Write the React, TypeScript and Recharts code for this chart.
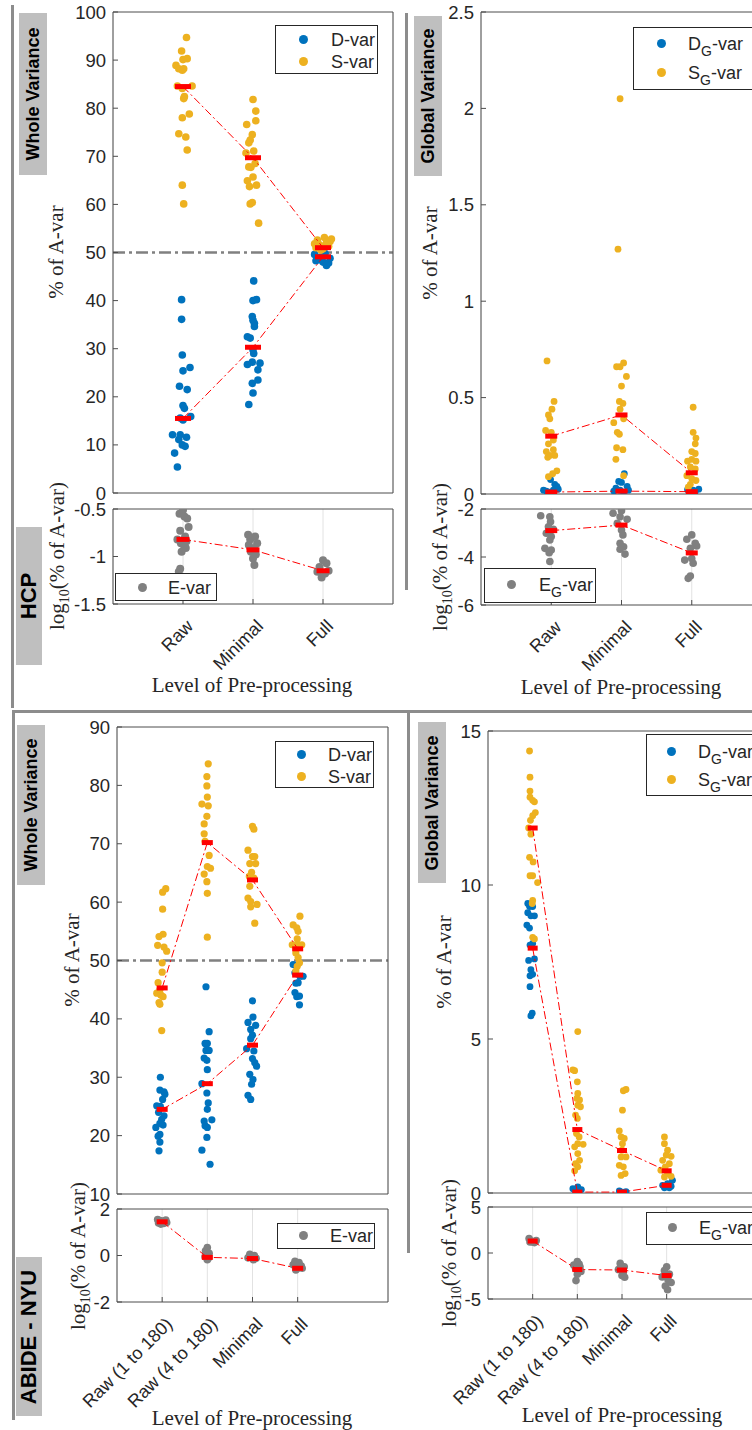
import React from 'react';
import { ComposedChart, Scatter, XAxis, YAxis, CartesianGrid, ReferenceLine } from 'recharts';

type Pt = [number, number]; // [jitter in category units, value]

const F_SANS = "'Liberation Sans', Arial, Helvetica, sans-serif";
const F_SERIF = "'Liberation Serif', 'Times New Roman', serif";
const INK = '#262626';
const AX = '#4d4d4d';
const GRID = '#e2e2e2';
const BLUE = '#0072BD';
const ORANGE = '#EDB120';
const GRAY = '#808080';
const RED = '#FF0000';
const FRAME = '#8c8c8c';

const hcpCats = ['Raw', 'Minimal', 'Full'];
const abideCats = ['Raw (1 to 180)', 'Raw (4 to 180)', 'Minimal', 'Full'];

// ---- HCP, whole variance ----
const hcpWholeTicks = [0, 10, 20, 30, 40, 50, 60, 70, 80, 90, 100];
const hcpWholeS: Pt[][] = [
  [[.05, 94.7], [-.02, 91.9], [.06, 90.3], [0, 90.1], [-.1, 88.9], [-.06, 88.2], [.01, 88.2], [-.01, 87.9], [-.08, 84.6], [.13, 84.6], [-.01, 84.1], [.02, 82.4], [.01, 82.0], [.09, 78.8], [-.01, 78.0], [-.06, 74.7], [.04, 74.0], [.06, 71.3], [-.01, 64.0], [.01, 60.1]],
  [[0, 81.8], [.04, 79.4], [.04, 77.4], [-.09, 76.6], [-.01, 74.5], [-.04, 73.4], [-.06, 72.8], [.01, 71.1], [-.1, 70.7], [.03, 68.5], [-.06, 67.8], [-.03, 67.7], [-.08, 64.9], [-.05, 63.7], [.05, 64.0], [0, 65.7], [-.04, 60.1], [-.01, 60.4], [.08, 56.1]],
  [[.02, 53.1], [-.08, 52.6], [.1, 52.3], [.05, 52.0], [-.05, 51.6], [.08, 51.3], [-.1, 51.0], [0, 50.8], [-.03, 50.5], [.12, 52.8], [.06, 52.2], [-.12, 51.8]],
];
const hcpWholeD: Pt[][] = [
  [[-.02, 40.2], [-.02, 36.1], [-.01, 28.7], [0, 25.4], [.1, 26.1], [-.05, 22.2], [.06, 21.5], [0, 18.2], [.02, 17.6], [-.04, 15.6], [.11, 15.9], [-.15, 12.1], [-.04, 12.1], [.05, 11.6], [-.06, 11.1], [-.01, 10.0], [.03, 9.7], [-.12, 8.3], [-.08, 5.4], [0, 15.2]],
  [[.01, 44.1], [0, 40.0], [.05, 40.2], [-.01, 36.7], [0, 35.9], [.02, 35.3], [.02, 34.6], [-.08, 32.5], [-.04, 32.2], [0, 29.8], [.01, 29.0], [-.08, 26.7], [-.01, 27.2], [.1, 27.0], [.07, 25.6], [.07, 23.5], [-.01, 22.8], [0, 20.8], [-.06, 18.4]],
  [[-.12, 49.6], [-.05, 49.0], [-.1, 48.3], [0, 48.0], [.08, 47.8], [.05, 47.3], [.1, 48.8], [.03, 49.8], [-.03, 48.5]],
];
const hcpWholeSMed = [84.5, 69.7, 51.0];
const hcpWholeDMed = [15.5, 30.3, 49.1];

const hcpWholeLogTicks = [-1.5, -1, -0.5];
const hcpWholeE: Pt[][] = [
  [[0, -0.51], [-.05, -0.55], [.02, -0.58], [.06, -0.60], [.08, -0.69], [-.04, -0.73], [.03, -0.79], [-.08, -0.82], [.05, -0.84], [-.03, -0.86], [.01, -0.88], [.04, -0.91], [-.02, -0.95], [-.04, -1.13], [-.06, -1.16]],
  [[-.07, -0.77], [.03, -0.79], [-.04, -0.82], [.06, -0.86], [-.06, -0.88], [.02, -0.91], [-.03, -0.95], [.04, -0.98], [0, -1.02], [.02, -1.09]],
  [[0, -1.04], [.05, -1.07], [-.05, -1.11], [.08, -1.15], [-.08, -1.16], [.03, -1.18], [-.02, -1.22]],
];
const hcpWholeEMed = [-0.82, -0.93, -1.15];

// ---- HCP, global variance ----
const hcpGlobalTicks = [0, 0.5, 1, 1.5, 2, 2.5];
const hcpGlobalS: Pt[][] = [
  [[-.06, .69], [.04, .48], [.01, .44], [-.04, .41], [-.02, .39], [-.08, .33], [0, .32], [.03, .28], [-.04, .26], [.03, .23], [-.07, .22], [-.02, .20], [.05, .20], [-.05, .19], [.08, .12], [-.04, .09], [.02, .105]],
  [[-.02, 2.05], [-.05, 1.27], [-.02, .66], [.03, .68], [-.07, .66], [.07, .61], [0, .56], [-.03, .48], [.02, .47], [-.02, .44], [.03, .39], [-.11, .37], [-.06, .32], [-.03, .31], [-.07, .24], [.02, .23], [-.08, .18], [.03, .095]],
  [[.02, .45], [.02, .32], [.06, .29], [.05, .26], [0, .22], [.05, .21], [-.06, .17], [0, .18], [.06, .17], [-.02, .14], [.05, .13], [-.07, .095], [0, .08], [.06, .07], [-.02, .05], [-.05, .035]],
];
const hcpGlobalD: Pt[][] = [
  [[-.01, .075], [.05, .05], [.08, .04], [-.11, .02], [-.07, .015], [-.02, .01], [.03, .02], [.1, .025]],
  [[.04, .105], [-.04, .065], [0, .06], [.08, .04], [-.08, .03], [-.02, .02], [.1, .02], [-.11, .015], [.03, .01]],
  [[-.06, .022], [.02, .02], [.1, .025], [-.02, .01], [.05, .012]],
];
const hcpGlobalSMed = [0.30, 0.41, 0.11];
const hcpGlobalDMed = [0.01, 0.015, 0.012];

const hcpGlobalLogTicks = [-6, -4, -2];
const hcpGlobalE: Pt[][] = [
  [[-.15, -2.28], [-.02, -2.32], [-.01, -2.53], [-.04, -2.74], [.03, -2.85], [-.07, -3.01], [0, -3.15], [-.02, -3.29], [-.09, -3.64], [0, -3.71], [-.03, -3.82], [-.02, -4.19]],
  [[0, -2.07], [-.12, -2.18], [-.02, -2.32], [.08, -2.43], [-.06, -2.6], [0, -2.88], [.02, -3.08], [-.02, -3.43], [.03, -3.57], [-.02, -3.68], [.05, -3.88]],
  [[0, -3.08], [-.07, -3.26], [.05, -3.43], [.07, -3.54], [-.02, -3.64], [-.1, -4.13], [0, -4.06], [.02, -4.26], [-.02, -4.79], [-.05, -4.89]],
];
const hcpGlobalEMed = [-2.9, -2.67, -3.83];

// ---- ABIDE-NYU, whole variance ----
const abideWholeTicks = [10, 20, 30, 40, 50, 60, 70, 80, 90];
const abideWholeS: Pt[][] = [
  [[.08, 62.3], [.01, 61.7], [.01, 58.8], [.02, 54.5], [-.07, 54.1], [-.1, 52.6], [.04, 52.3], [.1, 51.6], [0, 49.6], [0, 48.0], [-.09, 46.2], [-.05, 45.0], [-.12, 44.4], [-.03, 44.1], [.02, 43.8], [-.07, 42.8], [-.05, 42.5], [-.01, 38.0]],
  [[.02, 83.7], [-.01, 81.5], [-.01, 79.9], [0, 78.0], [-.12, 76.8], [.02, 76.5], [-.01, 74.7], [-.07, 73.4], [-.07, 71.7], [-.05, 70.4], [.04, 68.0], [0, 66.1], [.07, 65.8], [-.07, 64.8], [-.01, 63.5], [0, 61.5], [0, 54.0]],
  [[0, 73.0], [.03, 72.5], [-.1, 68.9], [0, 67.8], [.05, 67.8], [-.06, 66.6], [.07, 66.6], [-.02, 65.1], [-.07, 64.4], [.03, 64.1], [-.06, 62.7], [-.1, 60.7], [-.04, 60.1], [.1, 59.6], [-.04, 59.2], [.05, 56.4]],
  [[.05, 57.6], [-.1, 56.1], [-.02, 55.6], [.01, 55.0], [-.01, 53.7], [-.12, 52.7], [0, 52.7], [.09, 52.7], [-.04, 51.3], [.01, 50.5], [-.01, 49.0], [-.04, 48.2], [.04, 49.6]],
];
const abideWholeD: Pt[][] = [
  [[-.04, 30.0], [-.05, 27.8], [.04, 27.5], [.06, 27.1], [.01, 26.2], [-.12, 25.1], [-.04, 25.0], [-.08, 24.0], [.04, 23.4], [-.01, 22.8], [-.05, 22.1], [.02, 21.8], [-.14, 21.4], [-.05, 20.2], [-.09, 19.9], [-.05, 18.9], [-.07, 17.4]],
  [[-.03, 45.5], [.04, 37.8], [-.05, 35.8], [0, 35.8], [-.03, 34.6], [.04, 34.6], [-.07, 33.3], [-.01, 32.9], [0, 31.3], [-.12, 28.9], [-.01, 27.3], [.02, 25.6], [0, 24.5], [-.07, 22.5], [.1, 22.7], [-.05, 21.7], [0, 21.4], [-.01, 19.7], [-.12, 17.5], [.06, 15.1]],
  [[0, 43.1], [.01, 40.3], [-.1, 39.4], [.07, 38.9], [-.04, 38.2], [0, 37.2], [-.04, 36.6], [-.13, 34.9], [.03, 34.5], [0, 33.2], [.05, 32.5], [.09, 31.9], [-.06, 30.5], [.01, 29.6], [-.02, 28.8], [-.1, 26.9], [-.04, 26.2]],
  [[-.1, 49.3], [-.06, 47.9], [.05, 47.3], [.12, 47.3], [-.04, 46.1], [.01, 46.2], [-.06, 44.5], [-.02, 43.8], [.04, 43.9], [.04, 42.4]],
];
const abideWholeSMed = [45.3, 70.2, 63.8, 52.0];
const abideWholeDMed = [24.5, 28.9, 35.5, 47.5];

const abideWholeLogTicks = [-2, 0, 2];
const abideWholeE: Pt[][] = [
  [[-.1, 1.55], [-.05, 1.5], [0, 1.48], [.05, 1.45], [.1, 1.42], [-.08, 1.4], [.03, 1.38], [.08, 1.52], [-.03, 1.35]],
  [[0, 0.34], [-.04, 0.2], [.04, 0.1], [-.02, 0], [.03, -0.1], [0, -0.18], [-.05, -0.05]],
  [[-.06, 0.05], [.04, 0], [0, -0.05], [-.1, -0.1], [.08, -0.12], [.02, -0.18]],
  [[-.06, -0.25], [.03, -0.3], [-.1, -0.4], [.08, -0.45], [0, -0.55], [-.04, -0.62], [.1, -0.55]],
];
const abideWholeEMed = [1.45, -0.08, -0.13, -0.55];

// ---- ABIDE-NYU, global variance ----
const abideGlobalTicks = [0, 5, 10, 15];
const abideGlobalS: Pt[][] = [
  [[-.07, 14.35], [-.06, 13.5], [-.06, 13.05], [-.06, 12.85], [0, 12.75], [.04, 12.7], [.06, 12.35], [0, 12.25], [-.05, 12.1], [-.09, 11.85], [-.04, 11.65], [-.07, 10.9], [.01, 10.75], [-.06, 10.3], [0, 10.3], [.11, 10.08], [0, 9.5], [-.01, 9.4], [0, 8.3], [.04, 8.25]],
  [[.01, 5.24], [-.1, 4.0], [-.06, 3.97], [0, 3.61], [.01, 3.23], [-.01, 3.07], [.05, 3.02], [.01, 2.85], [.07, 2.8], [-.04, 2.53], [0, 2.42], [-.02, 1.93], [.04, 1.82], [.01, 1.6], [.13, 1.58], [-.06, 1.5], [.01, 1.28], [.05, 1.06], [-.04, 0.95], [.01, 0.85], [-.06, 0.72]],
  [[.09, 3.36], [.03, 3.32], [.01, 2.69], [-.06, 2.02], [-.02, 1.82], [.05, 1.77], [.01, 1.6], [0, 1.39], [-.02, 1.17], [.09, 1.17], [-.06, 0.9], [.03, 0.85], [-.02, 0.57], [.07, 0.63]],
  [[-.05, 1.82], [-.05, 1.6], [.02, 1.39], [-.01, 1.23], [.1, 1.19], [-.09, 1.06], [.06, 0.95], [-.03, 0.85], [-.13, 0.74], [.02, 0.63], [-.05, 0.52], [.1, 0.54]],
];
const abideGlobalD: Pt[][] = [
  [[-.11, 9.4], [-.07, 9.3], [0, 9.3], [-.11, 9.1], [-.04, 9.0], [.04, 9.0], [-.13, 8.7], [-.07, 8.6], [0, 8.1], [-.06, 8.05], [-.09, 7.55], [.04, 7.6], [-.04, 7.25], [-.06, 7.05], [0, 7.1], [-.06, 6.7], [-.01, 5.84], [-.04, 5.75]],
  [[-.1, .14], [.01, .2], [.09, .11], [-.02, .065], [-.04, .03]],
  [[-.06, .065], [.01, .03], [.09, .04], [-.02, .01]],
  [[-.09, .25], [.02, .3], [.1, .22], [.13, .41], [-.05, .17], [.06, .17]],
];
const abideGlobalSMed = [11.85, 2.06, 1.38, 0.72];
const abideGlobalDMed = [7.95, 0.03, 0.03, 0.25];

const abideGlobalLogTicks = [-5, 0, 5];
const abideGlobalE: Pt[][] = [
  [[-.08, 1.58], [-.03, 1.3], [.04, 1.13], [.08, 1.35], [0, 1.2], [-.06, 1.2], [.06, 1.25]],
  [[0, -0.94], [-.08, -1.3], [.06, -1.5], [-.04, -1.7], [.08, -2.0], [0, -2.3], [-.03, -3.0], [.04, -1.2]],
  [[-.04, -1.13], [.05, -1.5], [-.08, -1.8], [.03, -2.1], [0, -2.45], [.06, -2.64]],
  [[0, -1.5], [-.05, -1.9], [.06, -2.3], [-.1, -2.6], [.03, -2.9], [.1, -3.2], [-.03, -3.6], [.02, -4.0]],
];
const abideGlobalEMed = [1.3, -1.8, -1.85, -2.45];

const toXY = (groups: Pt[][]) => groups.flatMap((g, i) => g.map(([dx, v]) => ({ x: i + 1 + dx, y: v })));
const medXY = (m: number[]) => m.map((v, i) => ({ x: i + 1, y: v }));

const YW = 70;
const MT = 14;
const MR = 4;

function RotTick(p: any) {
  const label = p.cats[Math.round(p.payload.value) - 1];
  return (
    <text
      x={0}
      y={0}
      transform={`translate(${p.x + 7},${p.y + 19}) rotate(-45)`}
      textAnchor="end"
      dominantBaseline="central"
      fontSize={18}
      fontFamily={F_SANS}
      fill={INK}
    >
      {label}
    </text>
  );
}

function Panel(props: any) {
  const { left, top, w, h, cats, labels, yDomain, yTicks, series, meds, medW, refY } = props;
  const xMax = cats.length === 3 ? 4 : 6;
  const catTicks = cats.map((_: string, i: number) => i + 1);
  const XH = labels ? 180 : 14;
  const width = YW + w + 1 + MR;
  const height = MT + 1 + h + XH;
  const axisStyle = { stroke: AX, strokeWidth: 1 };
  return (
    <div style={{ position: 'absolute', left: left - YW, top: top - MT - 1 }}>
      <ComposedChart width={width} height={height} margin={{ top: MT, right: MR, bottom: 0, left: 0 }}>
        <CartesianGrid horizontal={false} stroke={GRID} />
        <XAxis
          dataKey="x"
          type="number"
          domain={[0, xMax]}
          ticks={catTicks}
          interval={0}
          height={XH}
          allowDataOverflow
          axisLine={axisStyle}
          tickLine={axisStyle}
          tickSize={-5}
          tickMargin={5}
          tick={labels ? (p: any) => <RotTick {...p} cats={cats} /> : false}
        />
        <XAxis
          xAxisId="top"
          orientation="top"
          type="number"
          domain={[0, xMax]}
          ticks={catTicks}
          interval={0}
          height={1}
          allowDataOverflow
          axisLine={axisStyle}
          tickLine={axisStyle}
          tickSize={-5}
          tick={false}
        />
        <YAxis
          dataKey="y"
          type="number"
          domain={yDomain}
          ticks={yTicks}
          interval={0}
          width={YW}
          allowDataOverflow
          axisLine={axisStyle}
          tickLine={axisStyle}
          tickSize={-5}
          tickMargin={12}
          tick={{ fill: INK, fontSize: 18.5, fontFamily: F_SANS }}
        />
        <YAxis
          yAxisId="right"
          orientation="right"
          type="number"
          domain={yDomain}
          ticks={yTicks}
          interval={0}
          width={1}
          allowDataOverflow
          axisLine={axisStyle}
          tickLine={axisStyle}
          tickSize={-5}
          tick={false}
        />
        {refY !== undefined && (
          <ReferenceLine y={refY} stroke={GRAY} strokeWidth={2.5} strokeDasharray="12 4 3 4" />
        )}
        {series.map((s: any, i: number) => (
          <Scatter
            key={'s' + i}
            data={s.data}
            isAnimationActive={false}
            shape={(p: any) => <circle cx={p.cx} cy={p.cy} r={s.r} fill={s.color} />}
          />
        ))}
        {meds.map((m: number[], i: number) => (
          <Scatter
            key={'m' + i}
            data={medXY(m)}
            isAnimationActive={false}
            line={{ stroke: RED, strokeWidth: 1, strokeDasharray: '8 3 2 3' }}
            shape={(p: any) => <rect x={p.cx - medW / 2} y={p.cy - 2.5} width={medW} height={5} fill={RED} />}
          />
        ))}
      </ComposedChart>
    </div>
  );
}

function LegendBox({ left, top, w, h, dotX, textX, rows }: any) {
  return (
    <div style={{ position: 'absolute', left, top, width: w, height: h, border: `1px solid ${INK}`, background: '#fff', boxSizing: 'border-box' }}>
      {rows.map((r: any, i: number) => (
        <React.Fragment key={i}>
          <div style={{ position: 'absolute', left: dotX - 5, top: r.y - 5, width: 9, height: 9, borderRadius: '50%', background: r.color }} />
          <div style={{ position: 'absolute', left: textX, top: r.y - 11, lineHeight: '22px', fontSize: 18, fontFamily: F_SANS, color: INK, whiteSpace: 'nowrap' }}>
            {r.label}
          </div>
        </React.Fragment>
      ))}
    </div>
  );
}

const sub = (base: string) => (
  <span>
    {base}
    <span style={{ fontSize: 14, position: 'relative', top: 6 }}>G</span>-var
  </span>
);

function VLabel({ x, y, children, size = 21, bold = false, serif = true }: any) {
  return (
    <div
      style={{
        position: 'absolute',
        left: x,
        top: y,
        transform: 'translate(-50%, -50%) rotate(-90deg)',
        whiteSpace: 'nowrap',
        fontFamily: serif ? F_SERIF : F_SANS,
        fontWeight: bold ? 700 : 400,
        fontSize: size,
        color: serif ? INK : '#000',
        lineHeight: 1,
      }}
    >
      {children}
    </div>
  );
}

const LogLabel = () => (
  <span>
    log<span style={{ fontSize: 14, position: 'relative', top: 5 }}>10</span>(% of A-var)
  </span>
);

function GrayBox({ left, top, w, h, text, size }: any) {
  return (
    <div style={{ position: 'absolute', left, top, width: w, height: h, background: '#bfbfbf' }}>
      <VLabel x={w / 2} y={h / 2} size={size} bold serif={false}>
        {text}
      </VLabel>
    </div>
  );
}

function HLabel({ x, y, text }: any) {
  return (
    <div style={{ position: 'absolute', left: x, top: y, transform: 'translate(-50%, -50%)', whiteSpace: 'nowrap', fontFamily: F_SERIF, fontSize: 21, color: INK, lineHeight: 1 }}>
      {text}
    </div>
  );
}

const Bar = ({ left, top, w, h }: any) => (
  <div style={{ position: 'absolute', left, top, width: w, height: h, background: FRAME }} />
);

export default function App() {
  return (
    <div style={{ position: 'absolute', left: 0, top: 0, width: 752, height: 1430, overflow: 'hidden', background: '#fff' }}>
      {/* frame lines */}
      <Bar left={11} top={5} w={3} h={703} />
      <Bar left={12} top={710} w={740} h={3} />
      <Bar left={12} top={713} w={3} h={707} />
      <Bar left={405} top={13} w={3} h={577} />
      <Bar left={407} top={713} w={3} h={540} />

      {/* HCP whole variance */}
      <Panel left={113} top={12} w={280} h={481} cats={hcpCats} yDomain={[0, 100]} yTicks={hcpWholeTicks}
        series={[{ data: toXY(hcpWholeD), color: BLUE, r: 3.8 }, { data: toXY(hcpWholeS), color: ORANGE, r: 3.8 }]}
        meds={[hcpWholeDMed, hcpWholeSMed]} medW={16} refY={50} />
      <Panel left={113} top={509} w={280} h={95} cats={hcpCats} labels yDomain={[-1.5, -0.5]} yTicks={hcpWholeLogTicks}
        series={[{ data: toXY(hcpWholeE), color: GRAY, r: 4 }]} meds={[hcpWholeEMed]} medW={13} />

      {/* HCP global variance */}
      <Panel left={481} top={12} w={281} h={482} cats={hcpCats} yDomain={[0, 2.5]} yTicks={hcpGlobalTicks}
        series={[{ data: toXY(hcpGlobalD), color: BLUE, r: 3.4 }, { data: toXY(hcpGlobalS), color: ORANGE, r: 3.4 }]}
        meds={[hcpGlobalDMed, hcpGlobalSMed]} medW={12} />
      <Panel left={481} top={509} w={281} h={96} cats={hcpCats} labels yDomain={[-6, -2]} yTicks={hcpGlobalLogTicks}
        series={[{ data: toXY(hcpGlobalE), color: GRAY, r: 3.8 }]} meds={[hcpGlobalEMed]} medW={12} />

      {/* ABIDE whole variance */}
      <Panel left={117} top={727} w={271} h={467} cats={abideCats} yDomain={[10, 90]} yTicks={abideWholeTicks}
        series={[{ data: toXY(abideWholeD), color: BLUE, r: 3.6 }, { data: toXY(abideWholeS), color: ORANGE, r: 3.6 }]}
        meds={[abideWholeDMed, abideWholeSMed]} medW={11} refY={50} />
      <Panel left={117} top={1209} w={271} h={93} cats={abideCats} labels yDomain={[-2, 2]} yTicks={abideWholeLogTicks}
        series={[{ data: toXY(abideWholeE), color: GRAY, r: 3.8 }]} meds={[abideWholeEMed]} medW={11} />

      {/* ABIDE global variance */}
      <Panel left={488} top={731} w={268} h={462} cats={abideCats} yDomain={[0, 15]} yTicks={abideGlobalTicks}
        series={[{ data: toXY(abideGlobalD), color: BLUE, r: 3.4 }, { data: toXY(abideGlobalS), color: ORANGE, r: 3.4 }]}
        meds={[abideGlobalDMed, abideGlobalSMed]} medW={10} />
      <Panel left={488} top={1207} w={268} h={92} cats={abideCats} labels yDomain={[-5, 5]} yTicks={abideGlobalLogTicks}
        series={[{ data: toXY(abideGlobalE), color: GRAY, r: 3.8 }]} meds={[abideGlobalEMed]} medW={10} />

      {/* legends */}
      <LegendBox left={275} top={25} w={103} h={49} dotX={28} textX={55}
        rows={[{ y: 14, color: BLUE, label: 'D-var' }, { y: 36, color: ORANGE, label: 'S-var' }]} />
      <LegendBox left={115} top={573} w={102} h={28} dotX={27} textX={52} rows={[{ y: 14, color: GRAY, label: 'E-var' }]} />
      <LegendBox left={633} top={27} w={150} h={63} dotX={28} textX={54}
        rows={[{ y: 16, color: BLUE, label: sub('D') }, { y: 45, color: ORANGE, label: sub('S') }]} />
      <LegendBox left={484} top={568} w={112} h={35} dotX={27} textX={54} rows={[{ y: 16, color: GRAY, label: sub('E') }]} />
      <LegendBox left={275} top={741} w={99} h={47} dotX={26} textX={52}
        rows={[{ y: 13, color: BLUE, label: 'D-var' }, { y: 35, color: ORANGE, label: 'S-var' }]} />
      <LegendBox left={277} top={1223} w={98} h={26} dotX={26} textX={52} rows={[{ y: 12, color: GRAY, label: 'E-var' }]} />
      <LegendBox left={646} top={734} w={150} h={62} dotX={25} textX={51}
        rows={[{ y: 17, color: BLUE, label: sub('D') }, { y: 45, color: ORANGE, label: sub('S') }]} />
      <LegendBox left={646} top={1212} w={150} h={33} dotX={26} textX={52} rows={[{ y: 15, color: GRAY, label: sub('E') }]} />

      {/* axis titles */}
      <VLabel x={56} y={252}>% of A-var</VLabel>
      <VLabel x={57} y={556}><LogLabel /></VLabel>
      <VLabel x={430} y={253}>% of A-var</VLabel>
      <VLabel x={440} y={557}><LogLabel /></VLabel>
      <VLabel x={72} y={960}>% of A-var</VLabel>
      <VLabel x={78} y={1256}><LogLabel /></VLabel>
      <VLabel x={444} y={962}>% of A-var</VLabel>
      <VLabel x={449} y={1253}><LogLabel /></VLabel>

      <HLabel x={252} y={685} text="Level of Pre-processing" />
      <HLabel x={621} y={687} text="Level of Pre-processing" />
      <HLabel x={252} y={1418} text="Level of Pre-processing" />
      <HLabel x={622} y={1415} text="Level of Pre-processing" />

      {/* gray tags */}
      <GrayBox left={19} top={13} w={28} h={162} text="Whole Variance" size={18} />
      <GrayBox left={16} top={527} w={26} h={138} text="HCP" size={22} />
      <GrayBox left={414} top={16} w={28} h={160} text="Global Variance" size={18} />
      <GrayBox left={17} top={725} w={28} h={160} text="Whole Variance" size={18} />
      <GrayBox left={16} top={1257} w={26} h={159} text="ABIDE - NYU" size={22} />
      <GrayBox left={418} top={722} w={28} h={161} text="Global Variance" size={18} />
    </div>
  );
}
